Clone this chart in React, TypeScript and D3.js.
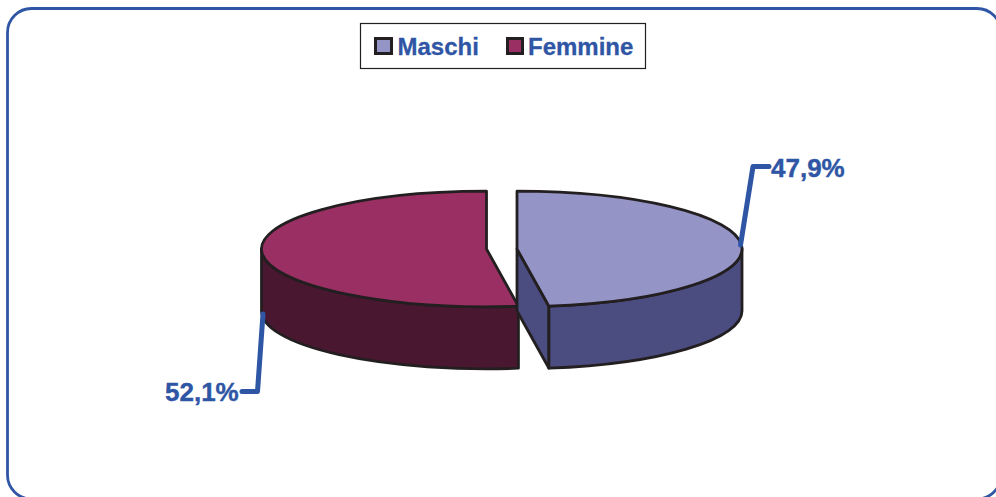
import React from "react";
import * as d3 from "d3";

const categories = ["Maschi", "Femmine"];
const shares = [47.9, 52.1];
const labels = ["47,9%", "52,1%"];
const topColors = ["#9494C6", "#9A2F63"];
const sideColors = ["#4B4C80", "#4A1730"];

const W = 996, H = 497;
const BLUE = "#2F55A5", INK = "#231F20";
const rx = 225, ry = 57.8, depth = 62;
const centers = [[517, 249], [486.5, 249]];

const angles = d3.pie<number>().sort(null)(shares);

// slight perspective skew of the projected angles; quadrant points stay put
const skew = (a: number) => a + 0.04 * Math.sin(2 * a);
const pt = (c: number[], a: number, dy = 0): [number, number] => [
  c[0] + rx * Math.sin(skew(a)),
  c[1] - ry * Math.cos(skew(a)) + dy,
];
const arcTo = (p: [number, number], large: boolean, sweep: boolean) =>
  `A${rx} ${ry} 0 ${large ? 1 : 0} ${sweep ? 1 : 0} ${p[0]} ${p[1]}`;

const topPath = (c: number[], a0: number, a1: number) => {
  const p0 = pt(c, a0), p1 = pt(c, a1);
  return `M${c[0]} ${c[1]}L${p0[0]} ${p0[1]}${arcTo(p1, a1 - a0 > Math.PI, true)}Z`;
};
const rimPath = (c: number[], a0: number, a1: number) => {
  const p0 = pt(c, a0), p1 = pt(c, a1), q0 = pt(c, a0, depth), q1 = pt(c, a1, depth);
  return `M${p0[0]} ${p0[1]}${arcTo(p1, false, true)}L${q1[0]} ${q1[1]}${arcTo(q0, false, false)}Z`;
};
const cutPath = (c: number[], a: number) => {
  const p = pt(c, a);
  return `M${c[0]} ${c[1]}L${p[0]} ${p[1]}L${p[0]} ${p[1] + depth}L${c[0]} ${c[1] + depth}Z`;
};

const stroke = { stroke: INK, strokeWidth: 2.8, strokeLinejoin: "round" as const };
const font = "'Liberation Sans', Arial, sans-serif";

export default function App() {
  const [m, f] = angles;
  const label = { fontFamily: font, fontWeight: 700, fontSize: 26, fill: BLUE, stroke: BLUE, strokeWidth: 0.4 };
  const legend = { fontFamily: font, fontWeight: 700, fontSize: 24, fill: BLUE, stroke: BLUE, strokeWidth: 0.3 };
  return (
    <svg width={W} height={H} viewBox={`0 0 ${W} ${H}`}
      style={{ position: "absolute", left: 0, top: 0, display: "block", background: "#fff" }}>
      <rect x={7.5} y={8.5} width={993.5} height={490.5} rx={24} ry={24} fill="#fff" stroke={BLUE} strokeWidth={2.8} />

      <rect x={360.5} y={23.5} width={285} height={45} fill="#fff" stroke={INK} strokeWidth={1.2} />
      {categories.map((name, i) => (
        <g key={name}>
          <rect x={[375.5, 507.5][i]} y={38.5} width={[16, 15][i]} height={15} fill={topColors[i]} stroke={INK} strokeWidth={3} />
          <text x={[397.5, 528][i]} y={55} style={legend}>{name}</text>
        </g>
      ))}

      <path d={rimPath(centers[1], f.startAngle, (3 * Math.PI) / 2)} fill={sideColors[1]} {...stroke} />
      <path d={topPath(centers[1], f.startAngle, f.endAngle)} fill={topColors[1]} {...stroke} />

      <path d={cutPath(centers[0], m.endAngle)} fill={sideColors[0]} {...stroke} />
      <path d={rimPath(centers[0], Math.PI / 2, m.endAngle)} fill={sideColors[0]} {...stroke} />
      <path d={topPath(centers[0], m.startAngle, m.endAngle)} fill={topColors[0]} {...stroke} />

      <path d="M740.5 245L753 166.5H769" fill="none" stroke={BLUE} strokeWidth={5} strokeLinecap="round" strokeLinejoin="round" />
      <path d="M263 314L257.5 391.5H242" fill="none" stroke={BLUE} strokeWidth={5} strokeLinecap="round" strokeLinejoin="round" />
      <text x={771} y={177} style={label}>{labels[0]}</text>
      <text x={165} y={401} style={label}>{labels[1]}</text>
    </svg>
  );
}
